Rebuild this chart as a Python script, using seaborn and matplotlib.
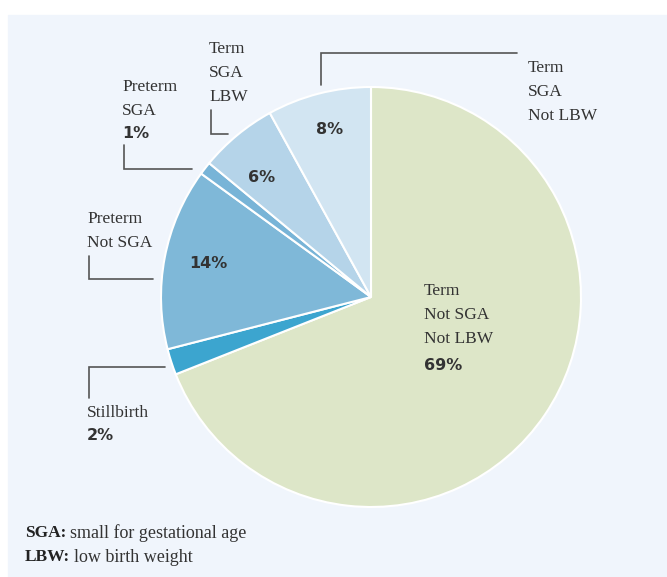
import numpy as np
import seaborn as sns
import matplotlib.pyplot as plt
from matplotlib.patches import Rectangle

# slice order: clockwise from 12 o'clock
categories = ["Term\nNot SGA\nNot LBW", "Stillbirth", "Preterm\nNot SGA",
              "Preterm\nSGA", "Term\nSGA\nLBW", "Term\nSGA\nNot LBW"]
shares = [69, 2, 14, 1, 6, 8]
slice_colors = ["#dde6c8", "#3ca5cf", "#7fb8d8", "#78b4d7", "#b5d4e9", "#d2e5f2"]
notes = [("SGA:", "small for gestational age"), ("LBW:", "low birth weight")]

sns.set_theme(style="white")
serif = "Liberation Serif"
sans = "DejaVu Sans"
txt = "#333333"
line_c = "#555555"
LS = 1.66

H = 577
fig = plt.figure(figsize=(6.67, 5.77), dpi=100)
ax = fig.add_axes([0, 0, 1, 1])

def Y(y):
    return H - y

ax.add_patch(Rectangle((8, 0), 659, H - 15, color="#f0f5fc", zorder=0))

ax.pie(shares, colors=slice_colors, startangle=90, counterclock=False,
       center=(371, Y(297)), radius=210, frame=True,
       wedgeprops=dict(edgecolor="white", linewidth=1.5))
ax.set_xlim(0, 667)
ax.set_ylim(0, H)
ax.axis("off")
ax.set_aspect("equal")

def pct(i):
    return f"{shares[i]}%"

def bold_pct(x, y, i, ha="center"):
    ax.text(x, Y(y), pct(i), ha=ha, va="center", fontsize=11.5,
            family=sans, weight="bold", color=txt)

def label(x, y, s):
    ax.text(x, Y(y), s, ha="left", va="top", fontsize=12.5, family=serif,
            color=txt, linespacing=LS)

# inside labels
label(424, 283, categories[0])
bold_pct(424, 365, 0, ha="left")
bold_pct(330, 130, 5)
bold_pct(262, 178, 4)
bold_pct(208, 263, 2)

# outside labels
label(528, 60, categories[5])
label(209, 41, categories[4])
label(122, 79, categories[3])
bold_pct(122, 133, 3, ha="left")
label(87, 211, categories[2])
label(87, 405, categories[1])
bold_pct(87, 436, 1, ha="left")

def leader(xs, ys):
    ax.plot(xs, [Y(v) for v in ys], color=line_c, lw=1.2, solid_joinstyle="miter")

leader([321, 321, 517], [85, 53, 53])
leader([211, 211, 228], [110, 134, 134])
leader([124, 124, 192], [145, 169, 169])
leader([89, 89, 153], [256, 279, 279])
leader([89, 89, 165], [398, 367, 367])

# footnotes
for k, (abbr, desc) in enumerate(notes):
    yy = Y(533 + 24 * k)
    t = ax.text(25, yy, abbr, ha="left", va="center", fontsize=12.5,
                family=serif, weight="bold", color="#222222")
    fig.canvas.draw()
    bb = t.get_window_extent().transformed(ax.transData.inverted())
    ax.text(bb.x1 + 4, yy, desc, ha="left", va="center", fontsize=13,
            family=serif, color=txt)

fig.savefig("out.png", dpi=100, facecolor="white")
